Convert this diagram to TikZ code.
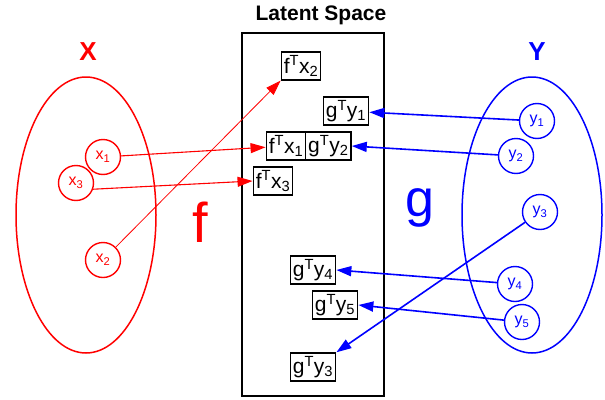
\documentclass[tikz,border=0pt]{standalone}
\usepackage{fontspec}
\setmainfont{Liberation Sans}
\usetikzlibrary{positioning,arrows.meta,shapes.geometric}

\begin{document}
\begin{tikzpicture}[
  x=1pt, y=-1pt,
  every node/.style={font=\fontsize{21}{23}\selectfont},
  setshape/.style={ellipse, draw, line width=1.5pt, minimum width=140pt, minimum height=276pt, inner sep=0pt},
  xpoint/.style={circle, draw=red, text=red, line width=1.4pt, minimum size=35pt, inner sep=0pt, font=\fontsize{16}{18}\selectfont},
  ypoint/.style={circle, draw=blue, text=blue, line width=1.4pt, minimum size=35pt, inner sep=0pt, font=\fontsize{16}{18}\selectfont},
  embed/.style={draw, line width=1.4pt, inner sep=2.5pt, minimum height=28pt},
  fmap/.style={-{Triangle[length=15pt,width=10pt]}, red, line width=1.1pt},
  gmap/.style={-{Triangle[length=15pt,width=10pt]}, blue, line width=1.6pt}
]
\useasboundingbox (0,0) rectangle (605,399);

% the two spaces and the latent space
\node[setshape, draw=red] (xset) at (86,215) {};
\node[setshape, draw=blue] (yset) at (532,215) {};
\node[draw, line width=1.8pt, minimum width=142pt, minimum height=363pt, inner sep=0pt] (space) at (313,214.5) {};
\node[font=\bfseries\fontsize{21}{23}\selectfont] (title) at (321,15) {Latent Space};
\node[font=\bfseries\fontsize{26}{28}\selectfont, text=red] (xlabel) at (88,52) {X};
\node[font=\bfseries\fontsize{26}{28}\selectfont, text=blue] (ylabel) at (537,52) {Y};
\node[font=\fontsize{56}{60}\selectfont, text=red] (flabel) at (200,222) {f};
\node[font=\fontsize{52}{56}\selectfont, text=blue] (glabel) at (420,208) {g};

% points
\node[xpoint] (x1) at (103,157) {x\textsubscript{1}};
\node[xpoint] (x3) at (76,183) {x\textsubscript{3}};
\node[xpoint] (x2) at (103,260) {x\textsubscript{2}};
\node[ypoint] (y1) at (537,121) {y\textsubscript{1}};
\node[ypoint] (y2) at (516,156) {y\textsubscript{2}};
\node[ypoint] (y3) at (540,212) {y\textsubscript{3}};
\node[ypoint] (y4) at (515,284) {y\textsubscript{4}};
\node[ypoint] (y5) at (522,322) {y\textsubscript{5}};

% embeddings
\node[embed] (fx2) at (301,66) {f\textsuperscript{T}x\textsubscript{2}};
\node[embed] (gy1) at (346,111) {g\textsuperscript{T}y\textsubscript{1}};
\node[embed] (fx1) at (286,146) {f\textsuperscript{T}x\textsubscript{1}};
\node[embed, right=-1.4pt of fx1] (gy2) {g\textsuperscript{T}y\textsubscript{2}};
\node[embed] (fx3) at (273,181) {f\textsuperscript{T}x\textsubscript{3}};
\node[embed] (gy4) at (313,270) {g\textsuperscript{T}y\textsubscript{4}};
\node[embed] (gy5) at (335,305) {g\textsuperscript{T}y\textsubscript{5}};
\node[embed] (gy3) at (313,367) {g\textsuperscript{T}y\textsubscript{3}};

\draw[fmap] (x1) -- (fx1);
\draw[fmap] (x3.-20) -- (fx3.west);
\draw[fmap, line width=0.8pt] (x2) -- (fx2.south west);
\draw[gmap] (y1) -- (gy1);
\draw[gmap] (y2) -- (gy2.east);
\draw[gmap] (y3) -- (gy3.north east);
\draw[gmap] (y4) -- (gy4.east);
\draw[gmap] (y5) -- (gy5.east);
\end{tikzpicture}
\end{document}
